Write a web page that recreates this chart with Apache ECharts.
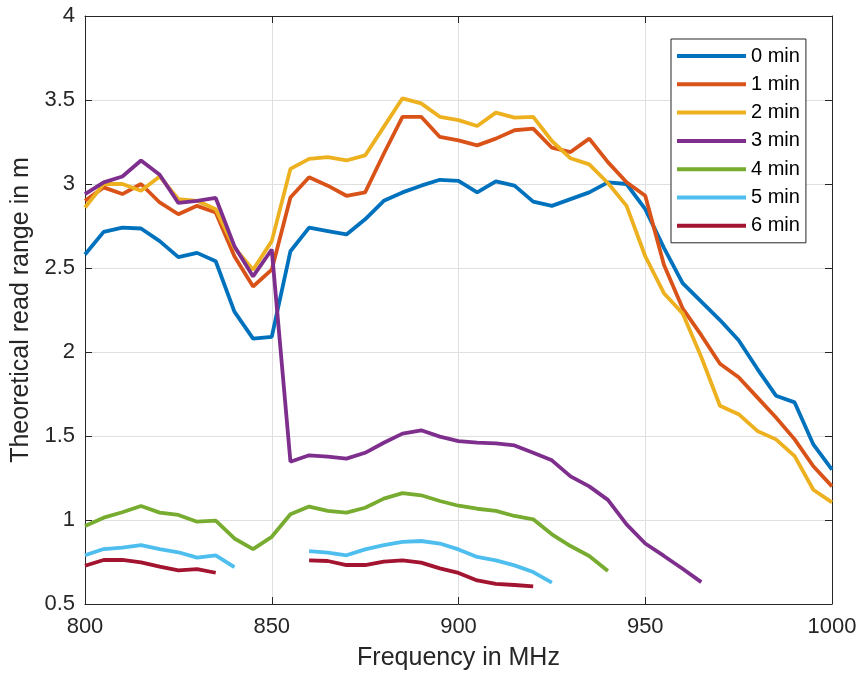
<!DOCTYPE html>
<html>
<head>
<meta charset="utf-8">
<script src="https://cdn.jsdelivr.net/npm/echarts@6/dist/echarts.min.js"></script>
<style>
  html, body { margin: 0; padding: 0; background: #fff; }
  #chart { width: 862px; height: 682px; }
</style>
</head>
<body>
<div id="chart"></div>
<script>
// frequency steps in MHz
const freq = [800, 805, 810, 815, 820, 825, 830, 835, 840, 845, 850, 855, 860, 865, 870, 875, 880, 885, 890, 895, 900,
  905, 910, 915, 920, 925, 930, 935, 940, 945, 950, 955, 960, 965, 970, 975, 980, 985, 990, 995, 1000]

const min0 = [2.58, 2.715, 2.74, 2.735, 2.66, 2.565, 2.59, 2.54, 2.24, 2.08, 2.09, 2.60, 2.74, 2.72, 2.70, 2.79, 2.90, 2.95, 2.99, 3.025, 3.018,
  2.95, 3.016, 2.99, 2.895, 2.87, 2.91, 2.95, 3.01, 3.0, 2.85, 2.62, 2.41, 2.30, 2.19, 2.07, 1.90, 1.74, 1.70, 1.45, 1.30]
const min1 = [2.90, 2.98, 2.94, 3.00, 2.89, 2.82, 2.87, 2.83, 2.57, 2.39, 2.49, 2.92, 3.04, 2.99, 2.93, 2.95, 3.18, 3.40, 3.40, 3.28, 3.26,
  3.23, 3.27, 3.32, 3.33, 3.216, 3.19, 3.27, 3.13, 3.01, 2.93, 2.52, 2.26, 2.10, 1.93, 1.85, 1.73, 1.61, 1.48, 1.32, 1.20]
const min2 = [2.86, 3.00, 3.00, 2.96, 3.045, 2.91, 2.90, 2.85, 2.62, 2.49, 2.66, 3.09, 3.15, 3.16, 3.14, 3.17, 3.34, 3.51, 3.48, 3.40, 3.38,
  3.345, 3.425, 3.395, 3.40, 3.256, 3.153, 3.117, 3.006, 2.87, 2.57, 2.35, 2.23, 1.97, 1.68, 1.63, 1.53, 1.48, 1.38, 1.18, 1.105]
const min3 = [2.94, 3.01, 3.045, 3.14, 3.055, 2.887, 2.90, 2.917, 2.63, 2.45, 2.61, 1.347, 1.385, 1.377, 1.365, 1.40, 1.46, 1.514, 1.534, 1.496, 1.47,
  1.46, 1.456, 1.444, 1.40, 1.355, 1.26, 1.20, 1.12, 0.974, 0.86, 0.786, 0.71, 0.63, null, null, null, null, null, null, null]
const min4 = [0.964, 1.014, 1.046, 1.083, 1.044, 1.03, 0.99, 0.996, 0.89, 0.827, 0.90, 1.034, 1.08, 1.054, 1.044, 1.073, 1.127, 1.16, 1.147, 1.113, 1.085,
  1.067, 1.054, 1.024, 1.004, 0.915, 0.845, 0.786, 0.696, null, null, null, null, null, null, null, null, null, null, null, null]
const min5 = [0.79, 0.827, 0.835, 0.85, 0.827, 0.808, 0.776, 0.79, 0.72, null, null, null, 0.815, 0.806, 0.79, 0.825, 0.85, 0.87, 0.875, 0.86, 0.825,
  0.78, 0.76, 0.73, 0.69, 0.627, null, null, null, null, null, null, null, null, null, null, null, null, null, null, null]
const min6 = [0.728, 0.762, 0.762, 0.748, 0.722, 0.70, 0.708, 0.686, null, null, null, null, 0.76, 0.756, 0.732, 0.732, 0.752, 0.76, 0.746, 0.712, 0.685,
  0.64, 0.62, 0.613, 0.605, null, null, null, null, null, null, null, null, null, null, null, null, null, null, null, null]

const names = ['0 min', '1 min', '2 min', '3 min', '4 min', '5 min', '6 min']
const values = [min0, min1, min2, min3, min4, min5, min6]
const colors = ['#0072BD', '#D95319', '#EDB120', '#7E2F8E', '#77AC30', '#4DBEEE', '#A2142F']

const font = '"Liberation Sans", Arial, Helvetica, sans-serif'
const ink = '#262626'

const chart = echarts.init(document.getElementById('chart'))

const series = names.map(function(name, k) {
  return {
    name: name,
    type: 'line',
    xAxisIndex: 0,
    yAxisIndex: 0,
    symbol: 'none',
    showSymbol: false,
    color: colors[k],
    lineStyle: { width: 3.8, color: colors[k] },
    data: freq.map(function(f, i) {
      return [f, values[k][i] === null ? '-' : values[k][i]]
    })
  }
})

// mirrored axes give the closed box with ticks on all four sides
const plainAxis = {
  axisLine: { show: true, onZero: false, lineStyle: { color: ink, width: 1 } },
  axisTick: { show: true, inside: true, length: 7, lineStyle: { color: ink } },
  axisLabel: { show: false },
  splitLine: { show: false }
}

chart.setOption({
  animation: false,
  backgroundColor: '#fff',
  textStyle: { fontFamily: font },
  grid: { left: 85, right: 30, top: 16, bottom: 78 },
  legend: {
    data: names,
    orient: 'vertical',
    left: 671,
    top: 39,
    padding: [6, 6, 6, 6],
    itemWidth: 69,
    itemHeight: 4,
    itemGap: 6.3,
    icon: 'rect',
    backgroundColor: '#fff',
    borderColor: ink,
    borderWidth: 1,
    borderRadius: 0,
    textStyle: { fontFamily: font, fontSize: 20, color: '#000', lineHeight: 22 }
  },
  xAxis: [
    {
      type: 'value',
      min: 800,
      max: 1000,
      interval: 50,
      position: 'bottom',
      name: 'Frequency in MHz',
      nameLocation: 'middle',
      nameGap: 42,
      nameTextStyle: { fontFamily: font, fontSize: 25, color: ink },
      axisLine: { show: true, onZero: false, lineStyle: { color: ink, width: 1 } },
      axisTick: { show: true, inside: true, length: 7, lineStyle: { color: ink } },
      axisLabel: {
        fontFamily: font,
        fontSize: 22,
        color: ink,
        margin: 12,
        formatter: function(v) { return String(v) }
      },
      splitLine: { show: true, lineStyle: { color: '#dfdfdf', width: 1 } }
    },
    Object.assign({ type: 'value', min: 800, max: 1000, interval: 50, position: 'top' }, plainAxis)
  ],
  yAxis: [
    {
      type: 'value',
      min: 0.5,
      max: 4,
      interval: 0.5,
      position: 'left',
      name: 'Theoretical read range in m',
      nameLocation: 'middle',
      nameGap: 45,
      nameTextStyle: { fontFamily: font, fontSize: 25, color: ink },
      axisLine: { show: true, onZero: false, lineStyle: { color: ink, width: 1 } },
      axisTick: { show: true, inside: true, length: 7, lineStyle: { color: ink } },
      axisLabel: { fontFamily: font, fontSize: 22, color: ink, margin: 10 },
      splitLine: { show: true, lineStyle: { color: '#dfdfdf', width: 1 } }
    },
    Object.assign({ type: 'value', min: 0.5, max: 4, interval: 0.5, position: 'right' }, plainAxis)
  ],
  series: series
})
</script>
</body>
</html>
